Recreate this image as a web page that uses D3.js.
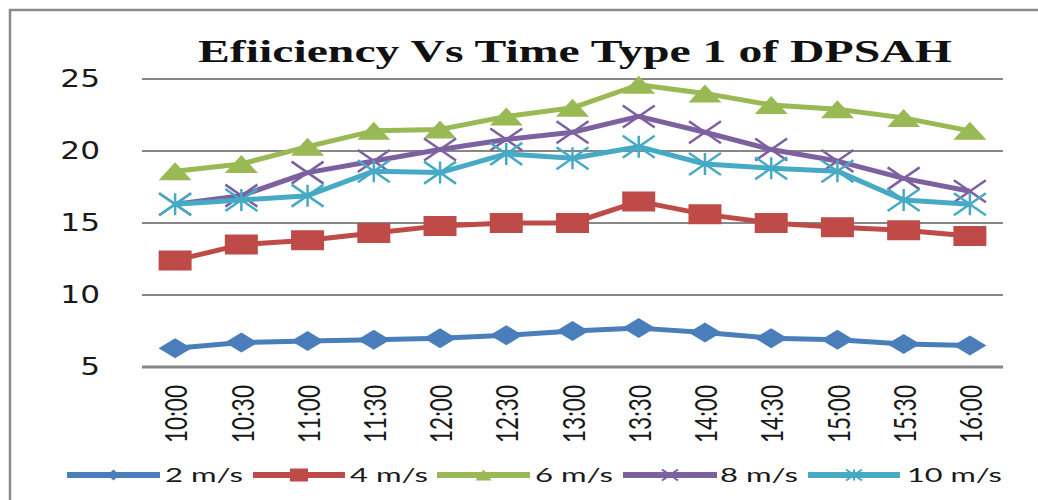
<!DOCTYPE html>
<html>
<head>
<meta charset="utf-8">
<script src="https://cdn.jsdelivr.net/npm/d3@7"></script>
<style>
  html, body { margin: 0; padding: 0; background: #fff; }
  svg { display: block; }
</style>
</head>
<body>
<svg id="chart" width="1038" height="500"></svg>
<script>
// ---- data ----
const times = ["10:00","10:30","11:00","11:30","12:00","12:30","13:00","13:30","14:00","14:30","15:00","15:30","16:00"];
const seriesNames = ["2 m/s","4 m/s","6 m/s","8 m/s","10 m/s"];
const v2  = [6.3, 6.7, 6.8, 6.9, 7.0, 7.2, 7.5, 7.7, 7.4, 7.0, 6.9, 6.6, 6.5];
const v4  = [12.4, 13.5, 13.8, 14.3, 14.8, 15.0, 15.0, 16.5, 15.6, 15.0, 14.7, 14.5, 14.1];
const v6  = [18.6, 19.1, 20.3, 21.4, 21.5, 22.4, 23.0, 24.6, 24.0, 23.2, 22.9, 22.3, 21.4];
const v8  = [16.3, 16.9, 18.5, 19.3, 20.1, 20.8, 21.3, 22.4, 21.3, 20.1, 19.3, 18.1, 17.2];
const v10 = [16.3, 16.6, 16.9, 18.6, 18.5, 19.8, 19.5, 20.3, 19.1, 18.8, 18.6, 16.6, 16.3];
const yTicks = [5, 10, 15, 20, 25];
const titleText = "Efiiciency Vs Time Type 1 of DPSAH";

// ---- styles ----
const colors = ["#4A7EBB", "#BE4B48", "#98B954", "#7D60A0", "#46AAC5"];
const markerTypes = ["diamond", "square", "triangle", "x", "star"];
const values = [v2, v4, v6, v8, v10];

const svg = d3.select("#chart");

// place text at (px,py) stretched horizontally to a target width
function fitText(sel, px, py, width) {
  const w = sel.node().getComputedTextLength();
  sel.attr("x", 0).attr("y", 0)
     .attr("transform", `translate(${px},${py}) scale(${width / w},1)`);
}

// frame
svg.append("rect").attr("x", 10).attr("y", 10).attr("width", 1060).attr("height", 520)
  .attr("fill", "none").attr("stroke", "#8a8a8a").attr("stroke-width", 2.5);

const x = d3.scalePoint().domain(times).range([142, 1003]).padding(0.5);
const y = d3.scaleLinear().domain([5, 25]).range([367, 79]);

// gridlines
svg.append("g").selectAll("line").data(yTicks).join("line")
  .attr("x1", 142).attr("x2", 1003)
  .attr("y1", d => y(d)).attr("y2", d => y(d))
  .attr("stroke", "#878787").attr("stroke-width", d => d === 5 ? 3 : 2.2);

// y tick labels
svg.append("g").selectAll("text").data(yTicks).join("text")
  .attr("transform", d => `translate(100,${y(d) + 8}) scale(1.3,1)`)
  .attr("text-anchor", "end")
  .attr("font-family", "DejaVu Sans")
  .attr("font-size", 24)
  .attr("fill", "#1a1a1a")
  .text(d => d);

// x tick labels
svg.append("g").selectAll("text").data(times).join("text")
  .attr("transform", d => `translate(${x(d) + 1},385) rotate(-90) scale(1,1.3)`)
  .attr("text-anchor", "end")
  .attr("dominant-baseline", "central")
  .attr("font-family", "Lato")
  .attr("font-size", 23)
  .attr("fill", "#1a1a1a")
  .attr("textLength", 58)
  .attr("lengthAdjust", "spacingAndGlyphs")
  .text(d => d);

// title
const title = svg.append("text")
  .attr("font-family", "Liberation Serif")
  .attr("font-weight", "bold")
  .attr("font-size", 31)
  .attr("fill", "#111")
  .text(titleText);
fitText(title, 198, 62, 754);

function markerPath(type, w, h) {
  const a = w / 2, b = h / 2;
  switch (type) {
    case "diamond": return `M0,${-b}L${a},0L0,${b}L${-a},0Z`;
    case "square": return `M${-a},${-b}H${a}V${b}H${-a}Z`;
    case "triangle": return `M0,${-b}L${a},${b}L${-a},${b}Z`;
    case "x": return `M${-a},${-b}L${a},${b}M${a},${-b}L${-a},${b}`;
    case "star": return `M${-a},${-b}L${a},${b}M${a},${-b}L${-a},${b}M0,${-b}V${b}`;
  }
}
const filled = t => t === "diamond" || t === "square" || t === "triangle";

const line = d3.line().x((d, i) => x(times[i])).y(d => y(d));

values.forEach((vals, si) => {
  const g = svg.append("g");
  g.append("path").datum(vals)
    .attr("d", line)
    .attr("fill", "none")
    .attr("stroke", colors[si])
    .attr("stroke-width", 5)
    .attr("stroke-linejoin", "round");
  const t = markerTypes[si];
  const size = t === "triangle" ? [33, 18] : (t === "x" || t === "star") ? [32, 22] : [33, 20];
  g.selectAll("path.m").data(vals).join("path")
    .attr("class", "m")
    .attr("transform", (d, i) => `translate(${x(times[i])},${y(d)})`)
    .attr("d", markerPath(t, size[0], size[1]))
    .attr("fill", filled(t) ? colors[si] : "none")
    .attr("stroke", colors[si])
    .attr("stroke-width", filled(t) ? 0 : 2.5);
});

// legend
const legendItems = [
  { x1: 67, x2: 160, tx: 165, tl: 78 },
  { x1: 253, x2: 345, tx: 350, tl: 78 },
  { x1: 437, x2: 530, tx: 535, tl: 78 },
  { x1: 623, x2: 717, tx: 720, tl: 78 },
  { x1: 808, x2: 900, tx: 907, tl: 95 }
];
const lg = svg.append("g");
legendItems.forEach((it, i) => {
  const ly = 475;
  lg.append("line").attr("x1", it.x1).attr("x2", it.x2).attr("y1", ly).attr("y2", ly)
    .attr("stroke", colors[i]).attr("stroke-width", 6);
  const t = markerTypes[i];
  const sz = t === "square" ? [18, 13] : t === "diamond" ? [12, 11] : [16, 11];
  lg.append("path")
    .attr("transform", `translate(${(it.x1 + it.x2) / 2},${ly})`)
    .attr("d", markerPath(t, sz[0], sz[1]))
    .attr("fill", filled(t) ? colors[i] : "none")
    .attr("stroke", colors[i])
    .attr("stroke-width", filled(t) ? 0 : 2);
  const txt = lg.append("text")
    .attr("font-family", "Lato")
    .attr("font-size", 20)
    .attr("fill", "#1a1a1a")
    .text(seriesNames[i]);
  fitText(txt, it.tx, 482, it.tl);
});
</script>
</body>
</html>
